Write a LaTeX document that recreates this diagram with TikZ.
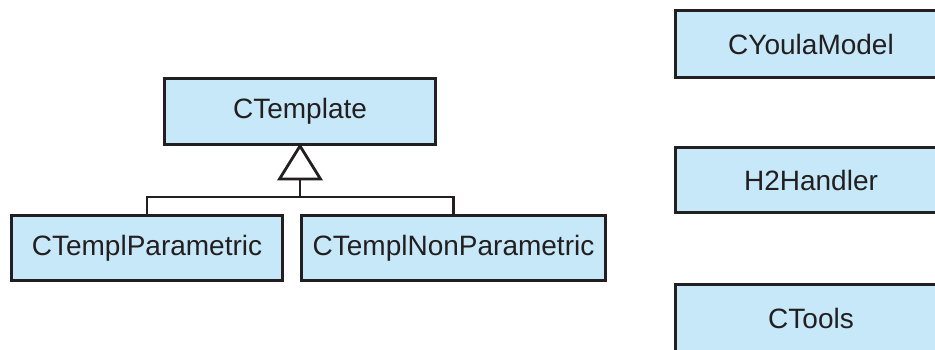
\documentclass[tikz,border=0pt]{standalone}
\usepackage{fontspec}
\setmainfont{Liberation Sans}
\definecolor{boxfill}{HTML}{C6E8F8}
\definecolor{ink}{HTML}{231F20}
\begin{document}
\begin{tikzpicture}[x=1pt,y=-1pt,
  cls/.style={draw=ink,fill=boxfill,line width=3pt,rectangle,inner sep=0pt,
    minimum width=271pt,minimum height=65pt,text=ink,
    font=\fontsize{28}{34}\selectfont},
  conn/.style={draw=ink,line width=2.8pt}]
\useasboundingbox (0,0) rectangle (935,349);
\clip (0,0) rectangle (935,349);
\node[cls,minimum height=66pt] (tmpl) at (300,111.5) {CTemplate};
\node[cls] (par) at (147,248) {CTemplParametric};
\node[cls,minimum width=304pt] (nonpar) at (453.5,248) {CTemplNonParametric};
\node[cls,minimum height=67pt] (youla) at (811,44) {CYoulaModel};
\node[cls] (h2) at (811,180) {H2Handler};
\node[cls,minimum height=68pt] (tools) at (811,318) {CTools};
\coordinate (tri) at (300,179);
\coordinate (bar) at (300,197);
\draw[conn,fill=white,line join=miter] (tmpl.south) -- ([xshift=-20.5pt]tri) -- ([xshift=20.5pt]tri) -- cycle;
\draw[conn] (tri) -- (bar);
\draw[conn] (par.north) |- (bar) -| (nonpar.north);
\end{tikzpicture}
\end{document}
